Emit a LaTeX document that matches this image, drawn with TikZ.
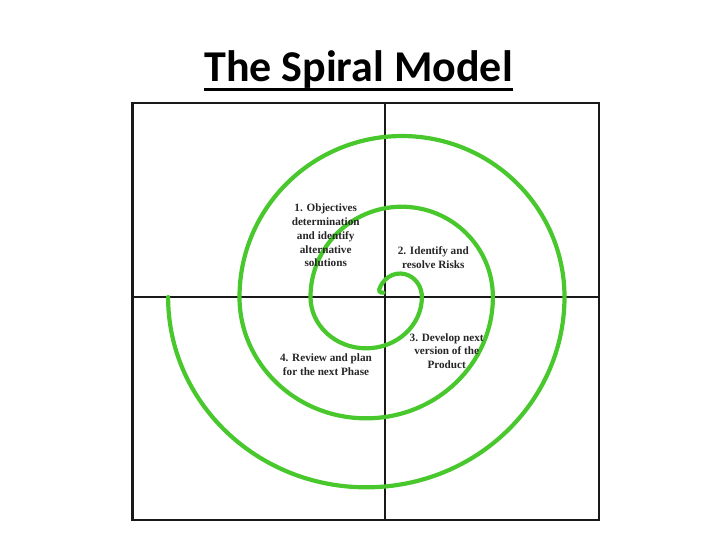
\documentclass[tikz,border=0pt]{standalone}
\usepackage{fontspec}
\setmainfont{Liberation Serif}
\newfontfamily\titlefont{Carlito}
\definecolor{spiralgreen}{RGB}{72,200,44}
\definecolor{txtgray}{RGB}{38,38,38}
\begin{document}
\begin{tikzpicture}[x=1pt,y=1pt,
  frame/.style={line width=2.6pt, black!90},
  spiral/.style={line width=4.2pt, spiralgreen, line cap=round},
  lbl/.style={font=\fontsize{11.2}{13.7}\selectfont\bfseries, text=txtgray, align=center, inner sep=0pt}]
\useasboundingbox (0,0) rectangle (720,540);
% title
\node[font=\titlefont\bfseries\fontsize{44}{48}\selectfont, inner sep=0pt, anchor=base] (title) at (358.5,458.3) {The Spiral Model};
\draw[line width=2.8pt] ([yshift=-7.6pt]title.base west) -- ([yshift=-7.6pt]title.base east);
% frame and axes
\coordinate (tl) at (132.7,437);
\coordinate (br) at (599,20);
\coordinate (top) at (385,437);
\coordinate (bot) at (385,20);
\coordinate (lft) at (132.7,243);
\coordinate (rgt) at (599,243);
\draw[frame] (tl) rectangle (br);
\draw[frame] (top) -- (bot);
\draw[frame] (lft) -- (rgt);
% spiral
\coordinate (s0) at (383.5,247.3);
\draw[spiral] (s0) .. controls (379.5,247) and (378,249.3) .. (380.15,252.9)
  arc[start angle=155, end angle=0, x radius=21.9, y radius=23.5]
  arc[start angle=0, end angle=-180, x radius=55.7, y radius=51.3]
  arc[start angle=180, end angle=0, x radius=91.2, y radius=90.3]
  arc[start angle=0, end angle=-180, x radius=126.7, y radius=121.3]
  arc[start angle=180, end angle=0, x radius=162.5, y radius=161]
  arc[start angle=0, end angle=-180, x radius=198.2, y radius=190.3];
% labels
\node[lbl] (q1) at (325.7,304.5) {1. Objectives\\determination\\and identify\\alternative\\solutions};
\node[lbl] (q2) at (433.3,282.7) {2. Identify and\\resolve Risks};
\node[lbl] (q3) at (446.7,189) {3. Develop next\\version of the\\Product};
\node[lbl] (q4) at (326,175) {4. Review and plan\\for the next Phase};
\end{tikzpicture}
\end{document}
